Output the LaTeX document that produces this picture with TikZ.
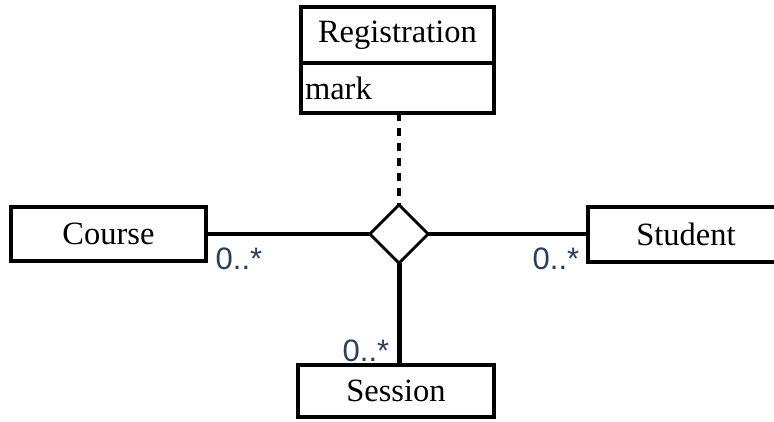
\documentclass[tikz,border=0pt]{standalone}
\usepackage{fontspec}
\setmainfont{Liberation Serif}
\newfontfamily\labelfont{Liberation Sans}
\usetikzlibrary{shapes.geometric}
\definecolor{multcol}{HTML}{2B3F5C}
\begin{document}
\begin{tikzpicture}[x=1pt,y=-1pt,
  classbox/.style={draw,line width=3.2pt,fill=white,inner sep=0pt,outer sep=0pt,
    font=\fontsize{32.5}{38}\selectfont},
  assoc/.style={draw,diamond,line width=2.6pt,fill=white,inner sep=0pt,outer sep=0pt,
    minimum width=58pt,minimum height=58pt},
  link/.style={line width=3.2pt},
  mult/.style={text=multcol,inner sep=0pt,font=\labelfont\fontsize{31}{36}\selectfont}
]
\clip (0,0) rectangle (774,421);
\fill[white] (0,0) rectangle (774,421);

% association class with its attribute compartment
\node[classbox,minimum width=193pt,minimum height=56pt] (reg) at (397.5,35) {Registration};
\node[classbox,minimum width=193pt,minimum height=50pt,text width=185pt,align=left,
      anchor=north] (regattr) at (reg.south) {mark};

% the three participating classes
\node[classbox,minimum width=195pt,minimum height=54pt] (course) at (108.5,234) {Course};
\node[classbox,minimum width=196pt,minimum height=55pt] (student) at (686,234.5) {Student};
\node[classbox,minimum width=196pt,minimum height=52pt] (session) at (396,391) {Session};

% n-ary association diamond
\node[assoc] (dia) at (399,234) {};

% association ends
\draw[link] (course.east) -- (dia.west);
\draw[link] (dia.east) -- (dia.east -| student.west);
\draw[link,line width=5pt] (dia.south) -- (dia.south |- session.north);
\draw[line width=4.6pt,dash pattern=on 8pt off 7pt] (regattr.south -| dia.north) -- (dia.north);

% redraw the diamond outline over the line ends
\node[assoc] at (dia) {};

% multiplicities
\node[mult] (mcourse) at (239,259) {0..*};
\node[mult] (mstudent) at (556,259) {0..*};
\node[mult] (msession) at (366,351) {0..*};
\end{tikzpicture}
\end{document}
